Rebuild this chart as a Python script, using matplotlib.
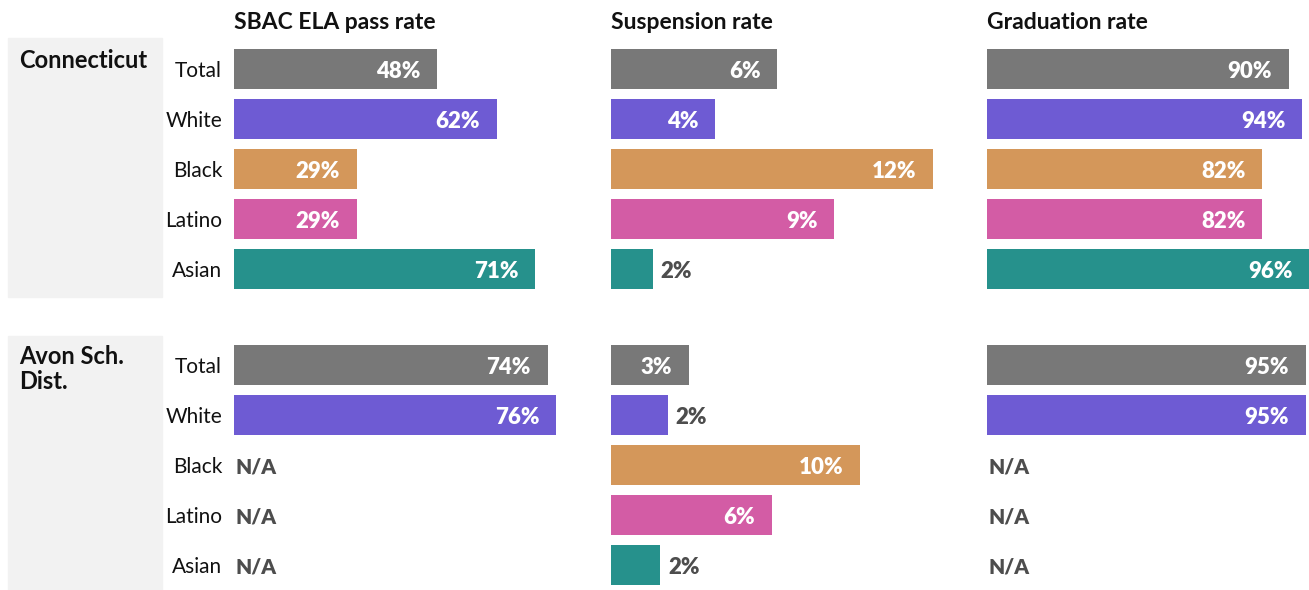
import numpy as np
import matplotlib.pyplot as plt
from matplotlib.patches import Rectangle

plt.rcParams['font.family'] = ['Lato', 'DejaVu Sans']

groups = ['Connecticut', 'Avon Sch.\nDist.']
rows = ['Total', 'White', 'Black', 'Latino', 'Asian']
metrics = ['SBAC ELA pass rate', 'Suspension rate', 'Graduation rate']

# values per metric, per group (nan = N/A)
sbac_ct = [48, 62, 29, 29, 71]
sbac_avon = [74, 76, np.nan, np.nan, np.nan]
susp_ct = [6.4, 4.0, 12.4, 8.6, 1.6]
susp_avon = [3.0, 2.2, 9.6, 6.2, 1.9]
grad_ct = [90, 94, 82, 82, 96]
grad_avon = [95, 95, np.nan, np.nan, np.nan]

data = [[sbac_ct, susp_ct, grad_ct], [sbac_avon, susp_avon, grad_avon]]
colors = ['#787878', '#6e5bd3', '#d4975a', '#d35ca5', '#26918c']
dark = '#4d4d4d'

W, H = 1309, 590
fig = plt.figure(figsize=(W / 100, H / 100), dpi=100)

def fx(px):
    return px / W

def fy(py):
    return 1 - py / H

col_left = [234, 611, 987]
col_w = 322
grp_top = [44, 340]
grp_h = 250
panels = [(38, 297), (336, 590)]
label_top = [49, 345]

for g in range(2):
    # grey panel behind group name
    top, bot = panels[g]
    fig.patches.append(Rectangle((fx(8), fy(bot)), fx(162) - fx(8), fy(top) - fy(bot),
                                 transform=fig.transFigure, color='#f2f2f2', zorder=0))
    fig.text(fx(19), fy(label_top[g]), groups[g], ha='left', va='top', fontsize=17,
             fontweight='bold', color='#111111', linespacing=1.1)

    for c in range(3):
        vals = np.array(data[g][c], dtype=float)
        vmax = np.nanmax(np.concatenate([data[0][c], data[1][c]]))
        ax = fig.add_axes([fx(col_left[c]), fy(grp_top[g] + grp_h), fx(col_w) - fx(0), grp_h / H])
        y = np.arange(len(rows))
        ax.barh(y, np.nan_to_num(vals), height=0.8, color=colors)
        ax.set_xlim(0, vmax)
        ax.set_ylim(len(rows) - 0.5, -0.5)
        for s in ax.spines.values():
            s.set_visible(False)
        ax.set_xticks([])
        if c == 0:
            ax.set_yticks(y)
            ax.set_yticklabels(rows, fontsize=15, color='#111111')
            ax.tick_params(axis='y', length=0, pad=8.5)
        else:
            ax.set_yticks([])
        ax.patch.set_alpha(0)
        if g == 0:
            ax.set_title(metrics[c], loc='left', fontsize=16.5, fontweight='bold',
                         color='#111111', pad=10.5)
        for i, v in enumerate(vals):
            kw = dict(textcoords='offset points', va='center_baseline', fontsize=16,
                      fontweight='heavy')
            if np.isnan(v):
                ax.annotate('N/A', (0, i), xytext=(1, 0), ha='left', color=dark,
                            **dict(kw, fontsize=15))
            elif v / vmax < 0.2:
                ax.annotate(f'{round(v)}%', (v, i), xytext=(5.5, 0), ha='left', color=dark, **kw)
            else:
                ax.annotate(f'{round(v)}%', (v, i), xytext=(-12, 0), ha='right', color='white', **kw)

fig.savefig('out.png', dpi=100)
